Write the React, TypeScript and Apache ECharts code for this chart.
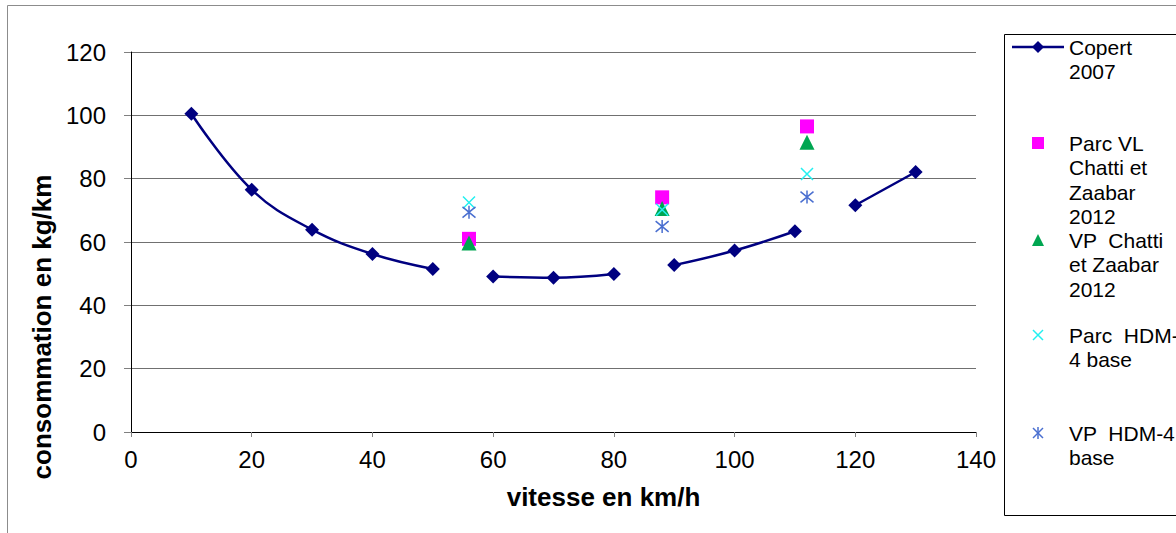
import { useEffect, useRef } from 'react';
import * as echarts from 'echarts';

const speeds = [10, 20, 30, 40, 50, 60, 70, 80, 90, 100, 110, 120, 130];
const copert = [100.5, 76.5, 63.9, 56.2, 51.5, 49.1, 48.7, 49.9, 52.7, 57.3, 63.4, 71.6, 82.1];
const gapAfter = [50, 80, 110];
const measuredSpeeds = [56, 88, 112];
const parcVL = [61.0, 74.1, 96.5];
const vpChatti = [59.7, 70.6, 91.5];
const parcHDM = [72.5, 70.2, 81.5];
const vpHDM = [69.4, 64.9, 74.2];
const seriesNames = [
  'Copert 2007',
  'Parc VL Chatti et Zaabar 2012',
  'VP  Chatti et Zaabar 2012',
  'Parc  HDM-4 base',
  'VP  HDM-4 base',
];
const legendLines = [
  ['Copert', '2007'],
  ['Parc VL', 'Chatti et', 'Zaabar', '2012'],
  ['VP  Chatti', 'et Zaabar', '2012'],
  ['Parc  HDM-', '4 base'],
  ['VP  HDM-4', 'base'],
];
const colors = ['#000080', '#ff00ff', '#00a651', '#22f0f0', '#4a6fd0'];

const FONT = '"Liberation Sans", Arial, sans-serif';
const X_PATH = 'path://M0,0L10,10M10,0L0,10';
const STAR_PATH = 'path://M0,0L10,10M10,0L0,10M5,-1L5,11';

function buildCopert() {
  const out: any[] = [];
  speeds.forEach((s, i) => {
    out.push([s, copert[i]]);
    if (gapAfter.includes(s)) out.push([s + 5, '-']);
  });
  return out;
}

function pairs(ys: number[]) {
  return measuredSpeeds.map((x, i) => [x, ys[i]]);
}

export default function App() {
  const ref = useRef<HTMLDivElement>(null);
  useEffect(() => {
    if (!ref.current) return;
    const chart = echarts.init(ref.current, null, { renderer: 'svg' });

    const legendFirstY = [47, 143, 240, 335, 433];
    const symX = 1038;
    const graphics: any[] = [
      {
        type: 'rect',
        silent: true,
        z: -10,
        shape: { x: 7.5, y: 5.5, width: 1300, height: 700 },
        style: { fill: 'none', stroke: '#8c8c8c', lineWidth: 1 },
      },
      {
        type: 'rect',
        silent: true,
        shape: { x: 1004.5, y: 34.5, width: 300, height: 481 },
        style: { fill: '#fff', stroke: '#000', lineWidth: 1 },
      },
    ];
    const y0 = legendFirstY[0];
    graphics.push({
      type: 'line',
      shape: { x1: 1012, y1: y0, x2: 1064, y2: y0 },
      style: { stroke: colors[0], lineWidth: 2.5 },
    });
    graphics.push({
      type: 'polygon',
      shape: { points: [[symX, y0 - 6], [symX + 6, y0], [symX, y0 + 6], [symX - 6, y0]] },
      style: { fill: colors[0] },
    });
    const y1 = legendFirstY[1];
    graphics.push({
      type: 'rect',
      shape: { x: symX - 6, y: y1 - 6, width: 12, height: 12 },
      style: { fill: colors[1] },
    });
    const y2 = legendFirstY[2];
    graphics.push({
      type: 'polygon',
      shape: { points: [[symX, y2 - 6], [symX + 6, y2 + 6], [symX - 6, y2 + 6]] },
      style: { fill: colors[2] },
    });
    const y3 = legendFirstY[3];
    graphics.push({ type: 'line', shape: { x1: symX - 5, y1: y3 - 5, x2: symX + 5, y2: y3 + 5 }, style: { stroke: colors[3], lineWidth: 1.5 } });
    graphics.push({ type: 'line', shape: { x1: symX + 5, y1: y3 - 5, x2: symX - 5, y2: y3 + 5 }, style: { stroke: colors[3], lineWidth: 1.5 } });
    const y4 = legendFirstY[4];
    graphics.push({ type: 'line', shape: { x1: symX - 5, y1: y4 - 5, x2: symX + 5, y2: y4 + 5 }, style: { stroke: colors[4], lineWidth: 1.5 } });
    graphics.push({ type: 'line', shape: { x1: symX + 5, y1: y4 - 5, x2: symX - 5, y2: y4 + 5 }, style: { stroke: colors[4], lineWidth: 1.5 } });
    graphics.push({ type: 'line', shape: { x1: symX, y1: y4 - 6, x2: symX, y2: y4 + 6 }, style: { stroke: colors[4], lineWidth: 1.5 } });

    legendLines.forEach((lines, i) => {
      graphics.push({
        type: 'text',
        x: 1069,
        y: legendFirstY[i] - 12.25,
        style: {
          text: lines.join('\n'),
          fill: '#000',
          fontSize: 21,
          fontFamily: FONT,
          lineHeight: 24.5,
          verticalAlign: 'top',
          align: 'left',
        },
      });
    });

    chart.setOption({
      animation: false,
      backgroundColor: '#fff',
      textStyle: { fontFamily: FONT },
      grid: { left: 131, top: 52, width: 845, height: 380, containLabel: false },
      xAxis: {
        type: 'value',
        min: 0,
        max: 140,
        interval: 20,
        name: 'vitesse en km/h',
        nameLocation: 'middle',
        nameGap: 52,
        nameTextStyle: {
          fontSize: 26,
          fontWeight: 'bold',
          color: '#000',
          fontFamily: FONT,
          padding: [0, 0, 0, 100],
        },
        axisLine: { lineStyle: { color: '#000', width: 1 } },
        axisTick: { show: true, length: 5, lineStyle: { color: '#808080' } },
        axisLabel: { fontSize: 24, color: '#000', margin: 15, fontFamily: FONT },
        splitLine: { show: false },
      },
      yAxis: {
        type: 'value',
        min: 0,
        max: 120,
        interval: 20,
        name: 'consommation en kg/km',
        nameLocation: 'middle',
        nameGap: 52,
        nameTextStyle: {
          fontSize: 26,
          fontWeight: 'bold',
          color: '#000',
          fontFamily: FONT,
          padding: [0, 170, 0, 0],
        },
        axisLine: { show: true, lineStyle: { color: '#000', width: 1 } },
        axisTick: { show: true, length: 7, lineStyle: { color: '#808080' } },
        axisLabel: { fontSize: 24, color: '#000', margin: 25, fontFamily: FONT },
        splitLine: { show: true, lineStyle: { color: '#707070', width: 1 } },
      },
      graphic: graphics,
      series: [
        {
          name: seriesNames[0],
          type: 'line',
          data: buildCopert(),
          smooth: 0.4,
          connectNulls: false,
          symbol: 'diamond',
          symbolSize: 14,
          showAllSymbol: true,
          lineStyle: { color: colors[0], width: 2.5 },
          itemStyle: { color: colors[0] },
          z: 2,
        },
        {
          name: seriesNames[1],
          type: 'scatter',
          data: pairs(parcVL),
          symbol: 'rect',
          symbolSize: 14,
          itemStyle: { color: colors[1], opacity: 1 },
          z: 3,
        },
        {
          name: seriesNames[2],
          type: 'scatter',
          data: pairs(vpChatti),
          symbol: 'triangle',
          symbolSize: 15,
          itemStyle: { color: colors[2], opacity: 1 },
          z: 4,
        },
        {
          name: seriesNames[3],
          type: 'scatter',
          data: pairs(parcHDM),
          symbol: X_PATH,
          symbolSize: 12,
          itemStyle: { color: 'none', borderColor: colors[3], borderWidth: 1.5, opacity: 1 },
          z: 5,
        },
        {
          name: seriesNames[4],
          type: 'scatter',
          data: pairs(vpHDM),
          symbol: STAR_PATH,
          symbolSize: 13,
          itemStyle: { color: 'none', borderColor: colors[4], borderWidth: 1.5, opacity: 1 },
          z: 6,
        },
      ],
    });
    return () => chart.dispose();
  }, []);

  return (
    <div
      ref={ref}
      style={{ position: 'fixed', left: 0, top: 0, width: 1176, height: 533, background: '#fff' }}
    />
  );
}
